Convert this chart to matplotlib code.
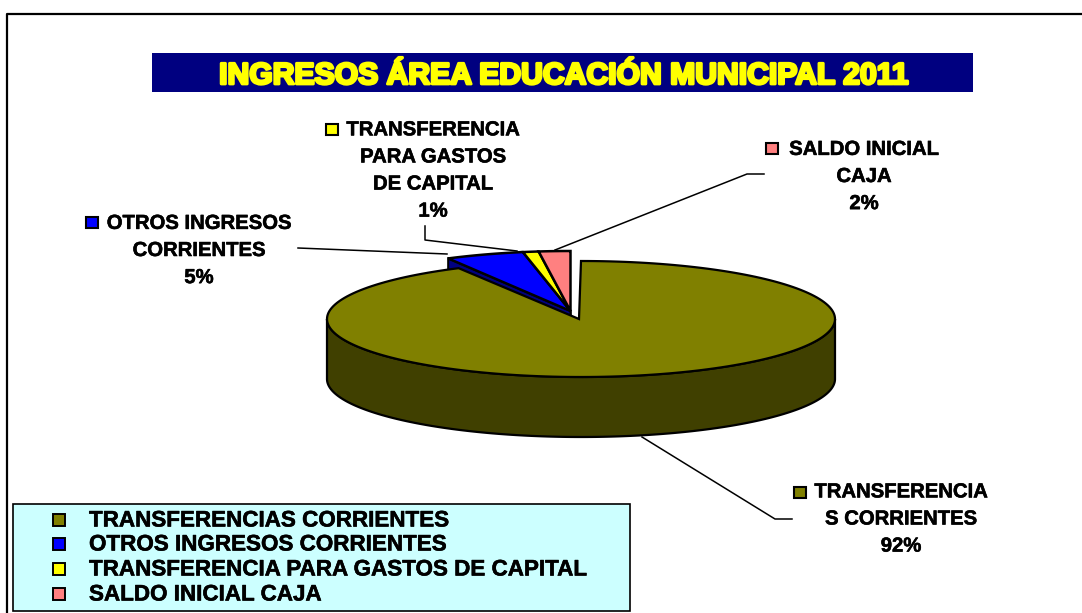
import numpy as np
import matplotlib
matplotlib.use("Agg")
import matplotlib.pyplot as plt
import matplotlib.patheffects as pe
from matplotlib.patches import Polygon, Rectangle

plt.rcParams['font.family'] = ['Liberation Sans', 'DejaVu Sans']

categorias = ["TRANSFERENCIAS CORRIENTES", "OTROS INGRESOS CORRIENTES",
              "TRANSFERENCIA PARA GASTOS DE CAPITAL", "SALDO INICIAL CAJA"]
valores = [92, 5, 1, 2]
etiquetas = ["TRANSFERENCIA\nS CORRIENTES", "OTROS INGRESOS\nCORRIENTES",
             "TRANSFERENCIA\nPARA GASTOS\nDE CAPITAL", "SALDO INICIAL\nCAJA"]
colores = ["#808000", "#0000FF", "#FFFF00", "#FF8080"]
oscuros = ["#404000", "#000080", "#808000", "#804040"]
titulo = "INGRESOS ÁREA EDUCACIÓN MUNICIPAL 2011"

fig = plt.figure(figsize=(10.82, 6.13), dpi=100)
ax = fig.add_axes([0, 0, 1, 1])
ax.set_xlim(0, 1082)
ax.set_ylim(613, 0)
ax.axis("off")

# marco exterior (sin lado derecho ni inferior)
ax.plot([7, 7, 1082], [613, 14, 14], color="black", lw=1.6)

# titulo
ax.add_patch(Rectangle((152, 53), 821, 39, fc="#000080", ec="none"))
ax.text(563.5, 76, titulo, color="#FFFF00", fontsize=21.7, fontweight="bold", ha="center", va="center",
        path_effects=[pe.withStroke(linewidth=2, foreground="#FFFF00")])


def rebanada(cx, cy, rx, ry, ini, fin):
    # angulos en fracciones, desde las 12 en sentido horario
    t = np.linspace(ini, fin, 200) * 2 * np.pi
    return cx + rx * np.sin(t), cy - ry * np.cos(t)


fracs = np.cumsum([0] + valores) / sum(valores)
alto = 60

# rebanadas separadas, detras de la grande: la pared queda tapada en parte
for i in [3, 2, 1]:
    x, y = rebanada(570.5, 311, 254, 60, fracs[i], fracs[i + 1])
    pared = np.c_[[x[0], 570.5, 570.5, x[0]], [y[0], 311, 311 + alto, y[0] + alto]]
    ax.add_patch(Polygon(pared, fc=oscuros[i], ec="black", lw=1.4, zorder=2))
for i in [1, 2, 3]:
    x, y = rebanada(570.5, 311, 254, 60, fracs[i], fracs[i + 1])
    ax.add_patch(Polygon(np.c_[np.r_[570.5, x], np.r_[311, y]], fc=colores[i], ec="black", lw=1.8, zorder=3))

# lado de la rebanada grande
x, y = rebanada(581, 319, 254, 58, 0.25, 0.75)
lado = np.r_[np.c_[x, y], np.c_[x[::-1], y[::-1] + alto]]
ax.add_patch(Polygon(lado, fc=oscuros[0], ec="black", lw=1.6, zorder=4))

x, y = rebanada(581, 319, 254, 58, fracs[0], fracs[1])
ax.add_patch(Polygon(np.c_[np.r_[579, x], np.r_[319, y]], fc=colores[0], ec="black", lw=1.6, zorder=5))

# lineas guia
guias = [([642, 775, 792], [437, 519, 519]),
         ([298, 447], [248, 254]),
         ([425, 425, 517], [226, 240, 251]),
         ([764, 747, 555], [174, 174, 250])]
for gx, gy in guias:
    ax.plot(gx, gy, color="black", lw=1.1, zorder=6)

# etiquetas
grueso = [pe.withStroke(linewidth=0.4, foreground="black")]
pos_etq = [(901, 519), (199, 250.5), (433, 170.5), (864, 176.5)]
for i in range(4):
    ax.text(pos_etq[i][0], pos_etq[i][1], etiquetas[i] + f"\n{valores[i]}%", ha="center", va="center",
            fontsize=14.6, fontweight="bold", linespacing=1.54, zorder=7, path_effects=grueso)
cuad = [(800, 492), (92, 222), (332, 129), (772, 148)]
for i in range(4):
    ax.add_patch(Rectangle((cuad[i][0] - 6, cuad[i][1] - 5.5), 12, 11, fc=colores[i], ec="black", lw=1.5, zorder=7))

# leyenda
ax.add_patch(Rectangle((13, 504), 617, 107, fc="#CCFFFF", ec="black", lw=1.2, zorder=7))
ley_y = [520, 544, 569, 594]
for i in range(4):
    ax.add_patch(Rectangle((53, ley_y[i] - 6), 12, 12, fc=colores[i], ec="black", lw=1.4, zorder=8))
    ax.text(89, ley_y[i] + 1, categorias[i], fontsize=16.15, fontweight="bold", va="center", zorder=8,
            path_effects=grueso)

fig.savefig("out.png", dpi=100)
